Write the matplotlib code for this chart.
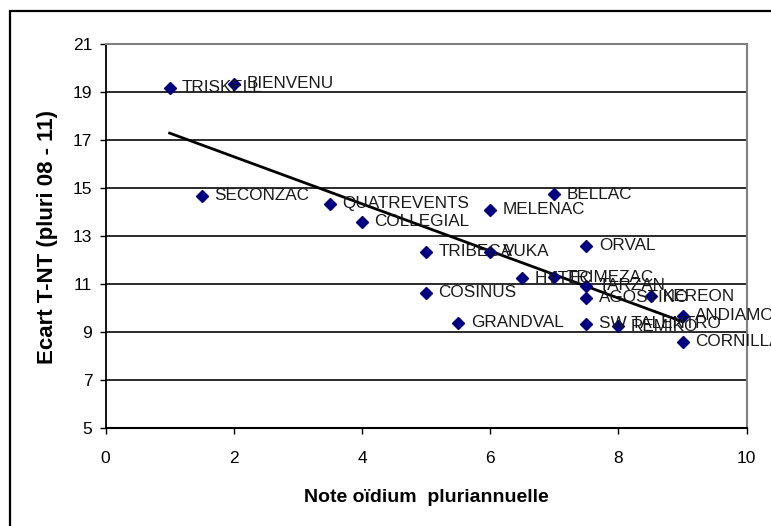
import matplotlib
matplotlib.use("Agg")
import matplotlib.pyplot as plt
from matplotlib.patches import Rectangle

plt.rcParams['font.family'] = ['Liberation Sans', 'DejaVu Sans']

names = ["TRISKELL", "BIENVENU", "SECONZAC", "QUATREVENTS", "COLLEGIAL",
         "BELLAC", "MELENAC", "TRIBECA", "VUKA", "ORVAL", "HYTEC", "TRIMEZAC",
         "TARZAN", "AGOSTINO", "KEREON", "COSINUS", "GRANDVAL", "SW TALENTRO",
         "REMIKO", "ANDIAMO", "CORNILLAC"]
note_oidium = [1.0, 2.0, 1.5, 3.5, 4.0, 7.0, 6.0, 5.0, 6.0, 7.5, 6.5, 7.0,
               7.5, 7.5, 8.5, 5.0, 5.5, 7.5, 8.0, 9.0, 9.0]
ecart = [19.2, 19.35, 14.7, 14.35, 13.6, 14.75, 14.1, 12.35, 12.35, 12.6, 11.25,
         11.3, 10.95, 10.45, 10.5, 10.65, 9.4, 9.35, 9.25, 9.7, 8.6]
trend_x = [1.0, 9.0]
trend_y = [17.3, 9.44]
x_ticks = [0, 2, 4, 6, 8, 10]
y_ticks = [5, 7, 9, 11, 13, 15, 17, 19, 21]

W, H = 771, 526
fig = plt.figure(figsize=(W / 100, H / 100), dpi=100)
fig.patch.set_facecolor('white')

# outer frame
fig.patches.append(Rectangle((10 / W, -0.2), 1.2, 1.2 - 11 / H,
                             transform=fig.transFigure, fill=False,
                             edgecolor='black', linewidth=1.6))

L, R, T, B = 105.5, 746.7, 44.3, 428.3
ax = fig.add_axes([L / W, 1 - B / H, (R - L) / W, (B - T) / H])
ax.set_xlim(0, 10)
ax.set_ylim(5, 21)

for yv in y_ticks[1:-1]:
    ax.axhline(yv, color='#1a1a1a', linewidth=1.3, zorder=1)

ax.spines['top'].set_color('#808080')
ax.spines['right'].set_color('#808080')
ax.spines['top'].set_linewidth(1.5)
ax.spines['right'].set_linewidth(1.5)
ax.spines['left'].set_color('black')
ax.spines['bottom'].set_color('black')
ax.spines['left'].set_linewidth(1.3)
ax.spines['bottom'].set_linewidth(1.5)

ax.set_xticks(x_ticks)
ax.set_yticks(y_ticks)
ax.tick_params(axis='both', direction='out', length=4.5, width=1.0,
               labelsize=12.5, colors='black')
ax.tick_params(axis='x', pad=12)
ax.tick_params(axis='y', pad=5)

ax.plot(trend_x, trend_y, color='black', linewidth=2.0, zorder=3)
ax.plot(note_oidium, ecart, linestyle='none', marker='D', markersize=6,
        color='#000080', zorder=4, clip_on=False)

for n, xv, yv in zip(names, note_oidium, ecart):
    ax.annotate(n, (xv, yv), xytext=(9, 0), textcoords='offset points',
                ha='left', va='center', fontsize=12.3, color='#1a1a1a',
                annotation_clip=False, zorder=5)

fig.text(48 / W, 1 - 237 / H, "Ecart T-NT (pluri 08 - 11)", rotation=90,
         ha='center', va='center', fontsize=16, fontweight='bold')
fig.text((L + R) / 2 / W, 1 - 497 / H, "Note oïdium  pluriannuelle",
         ha='center', va='center', fontsize=14, fontweight='bold')

fig.savefig("out.png", dpi=100)
